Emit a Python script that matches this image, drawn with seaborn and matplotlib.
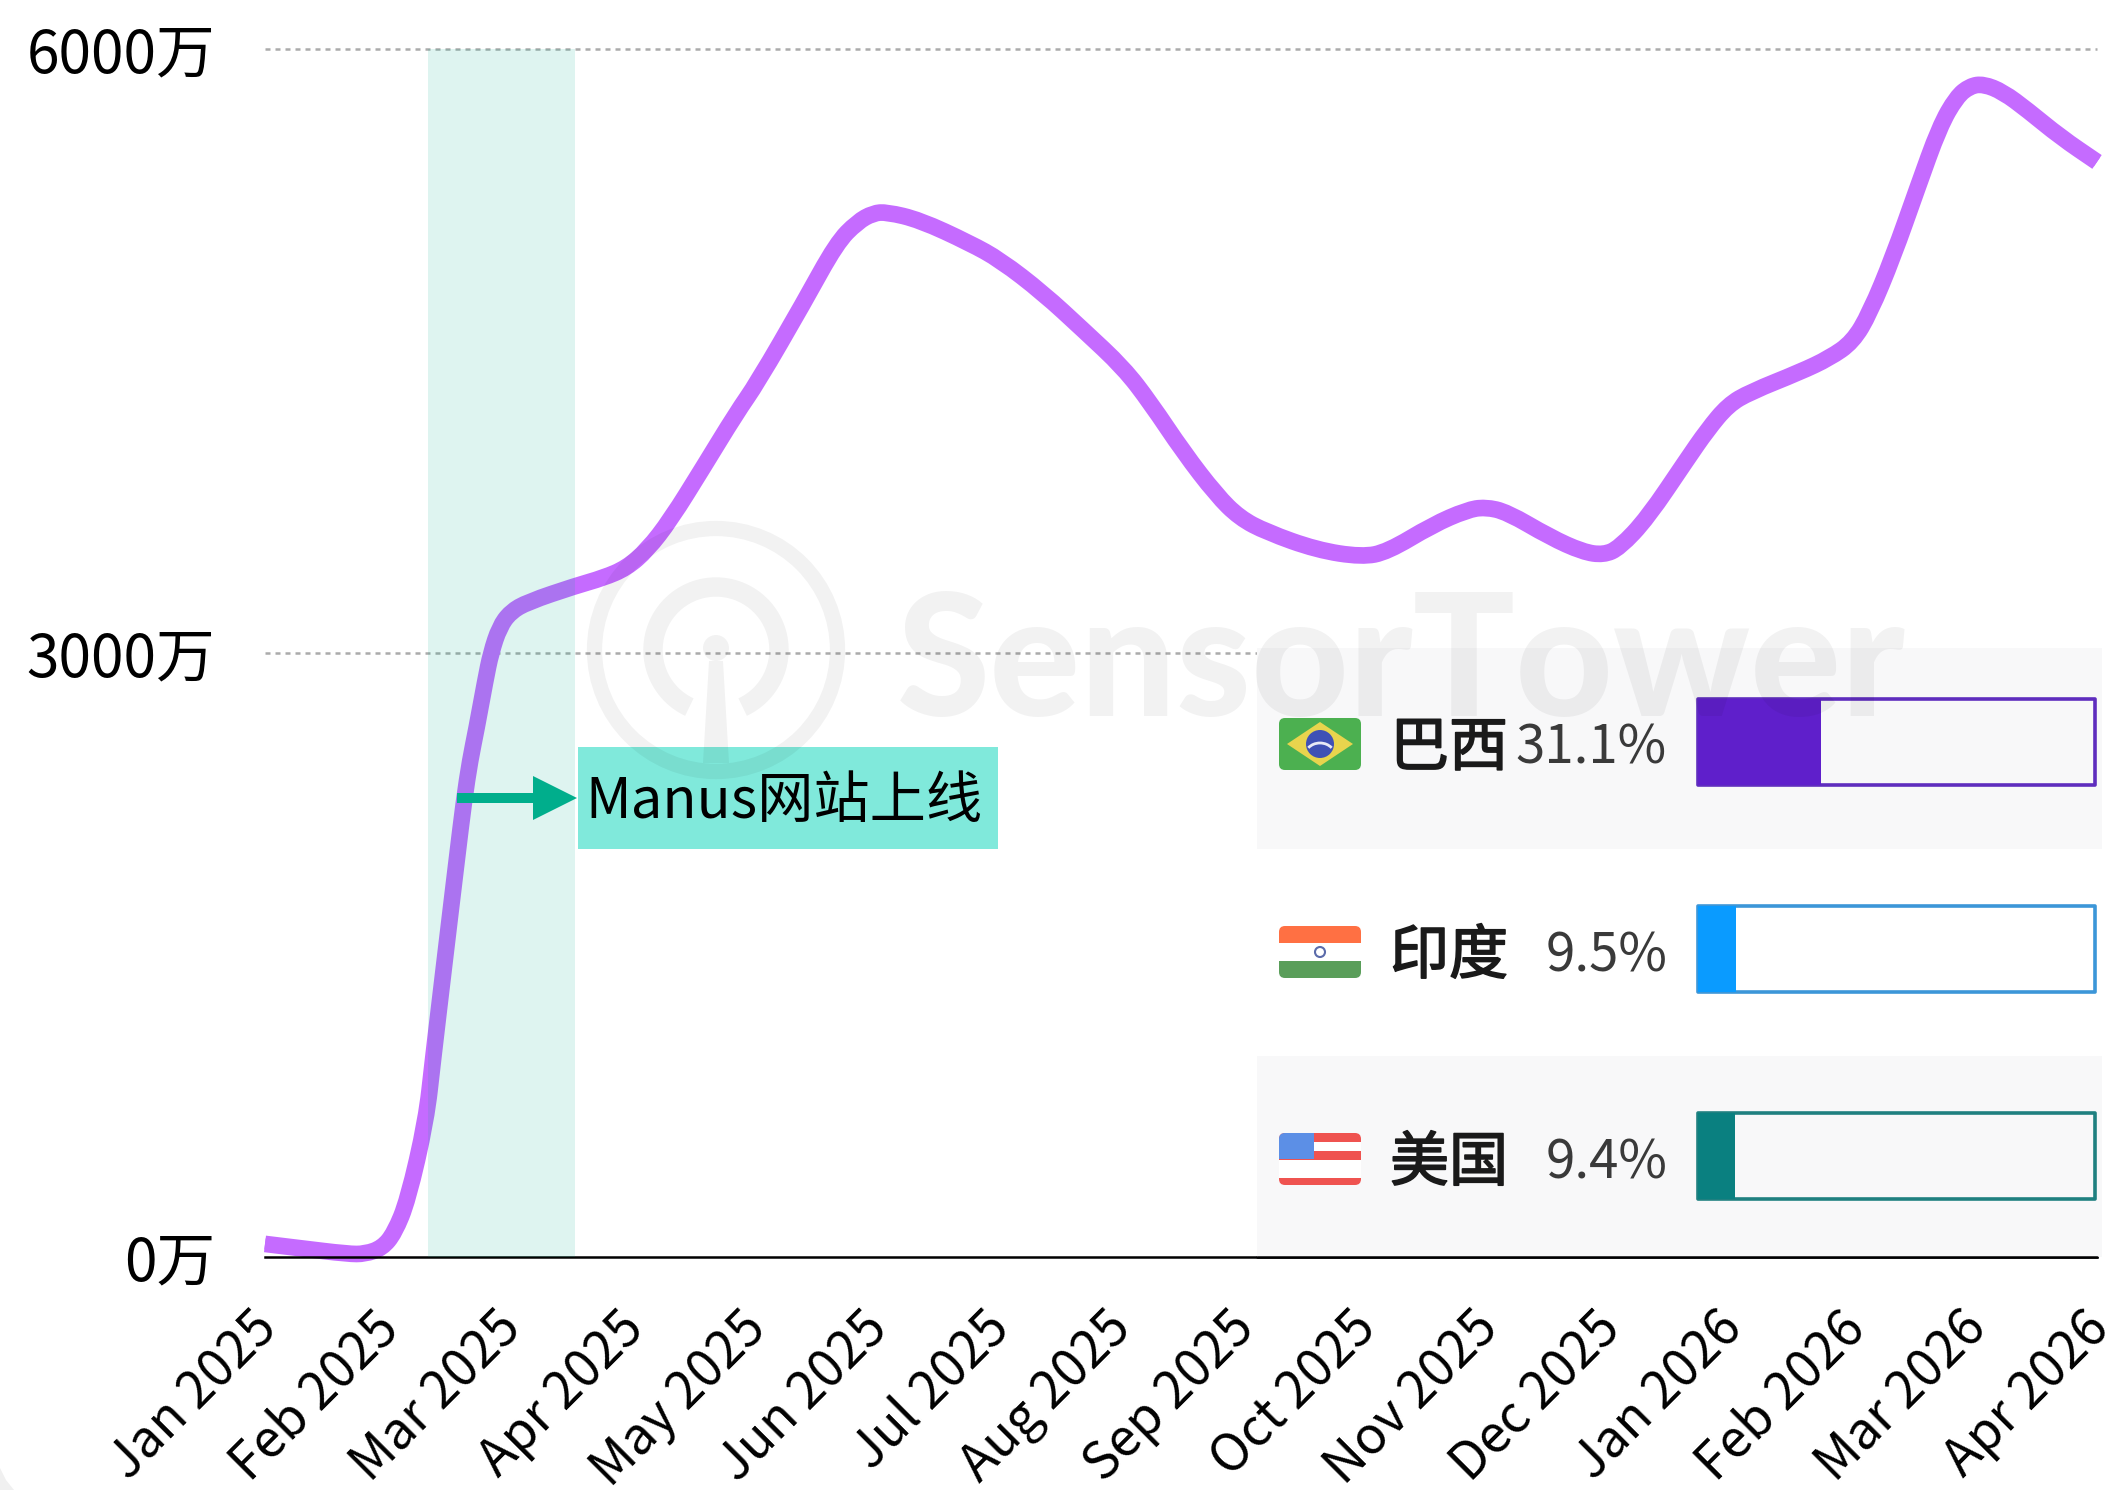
import numpy as np
import pandas as pd
import seaborn as sns
import matplotlib.pyplot as plt
import matplotlib.patheffects as pe
from matplotlib.patches import Rectangle, Polygon, Circle, Ellipse, Arc, FancyBboxPatch, PathPatch
from matplotlib.path import Path
from matplotlib.transforms import ScaledTranslation

# Monthly labels and the line (x in months since Jan 2025)
months = ["Jan 2025", "Feb 2025", "Mar 2025", "Apr 2025", "May 2025", "Jun 2025", "Jul 2025", "Aug 2025",
          "Sep 2025", "Oct 2025", "Nov 2025", "Dec 2025", "Jan 2026", "Feb 2026", "Mar 2026", "Apr 2026"]
curve_month = [0.00, 0.27, 0.68, 0.82, 0.96, 1.06, 1.17, 1.32, 1.375, 1.465, 1.57, 1.63, 1.68, 1.73, 1.805, 1.85, 1.92,
               2.01, 2.15, 2.54, 2.77, 2.96, 3.13, 3.32, 3.59, 3.86, 4.03, 4.41, 4.68, 4.85, 4.98, 5.09, 5.36,
               5.77, 6.02, 6.37, 6.70, 7.03, 7.25, 7.52, 7.79, 7.98, 8.20, 8.61, 8.98, 9.19, 9.56, 9.84, 9.99,
               10.17, 10.52, 10.79, 10.96, 11.09, 11.32, 11.64, 11.81, 11.98, 12.16, 12.57, 12.81, 13.00, 13.14,
               13.33, 13.53, 13.71, 13.85, 13.96, 14.07, 14.23, 14.43, 14.70, 15.00]
curve_users = [65, 45, 15, 15, 45, 119, 283, 680, 978, 1440, 1972, 2270, 2469, 2618, 2866, 3000, 3129,
               3204, 3253, 3333, 3373, 3422, 3512, 3661, 3924, 4192, 4341, 4739, 5036, 5141, 5185, 5190, 5151,
               5036, 4952, 4788, 4604, 4416, 4242, 3998, 3785, 3671, 3601, 3512, 3477, 3502, 3636, 3710, 3725,
               3700, 3576, 3502, 3487, 3522, 3671, 3959, 4108, 4232, 4296, 4396, 4465, 4545, 4689,
               4967, 5310, 5613, 5762, 5816, 5826, 5787, 5697, 5563, 5439]
y_ticks = [0, 3000, 6000]
y_labels = ["0万", "3000万", "6000万"]

# Country share panel
countries = ["巴西", "印度", "美国"]
shares = [31.1, 9.5, 9.4]
share_labels = ["31.1%", "9.5%", "9.4%"]
share_colors = ["#5F1FCB", "#0A9BFF", "#0A8080"]
track_colors = ["#5F2DBE", "#3C96D8", "#1F8080"]
track_full = [100, 100, 100]

W, H = 2111, 1490
LINE_COLOR = "#C56BFF"


def axes_px(x0, y0, x1, y1, **kw):
    # axes placed with picture pixels, y going down
    return fig.add_axes([x0 / W, 1 - y1 / H, (x1 - x0) / W, (y1 - y0) / H], **kw)


def rounded_path(xs, ys):
    # same read points, only the corners between them drawn as curves
    pts = np.column_stack((xs, ys))
    verts = [pts[0], (pts[0] + pts[1]) / 2]
    codes = [Path.MOVETO, Path.LINETO]
    for ctrl, mid in zip(pts[1:-1], (pts[1:-1] + pts[2:]) / 2):
        verts += [ctrl, mid]
        codes += [Path.CURVE3, Path.CURVE3]
    verts.append(pts[-1])
    codes.append(Path.LINETO)
    return Path(verts, codes)


sns.set_theme(style="white")
plt.rcParams['font.family'] = ['Noto Sans CJK SC', 'DejaVu Sans']

fig = plt.figure(figsize=(W / 100, H / 100), dpi=100, facecolor="white")

# Main line chart
ax = axes_px(265, 49, 2097, 1257, zorder=1)
ax.patch.set_alpha(0)
df = pd.DataFrame({"month": curve_month, "users": curve_users})
ax.axhline(6000, color="#ABABAB", lw=1.8, dashes=(2, 2), zorder=1, clip_on=False)
ax.axhline(3000, color="#ABABAB", lw=1.8, dashes=(2, 2), zorder=1, clip_on=False)
sns.lineplot(data=df, x="month", y="users", sort=False, estimator=None, color=LINE_COLOR, lw=8,
             ax=ax, zorder=2, clip_on=False, solid_capstyle="butt", solid_joinstyle="round")
ax.add_patch(PathPatch(rounded_path(curve_month, curve_users), fc="none", ec=LINE_COLOR, lw=12,
                       capstyle="butt", joinstyle="round", zorder=2, clip_on=False))
ax.axvspan(1.335, 2.539, color="#00AE8C", alpha=0.13, lw=0, zorder=3)
ax.set_xlim(0, 15)
ax.set_ylim(0, 6000)
ax.set_xlabel("")
ax.set_ylabel("")
ax.set_yticks(y_ticks, y_labels, fontsize=42.2, color="black")
ax.set_xticks(range(len(months)))
ax.set_xticklabels(months, fontsize=37, rotation=45, ha="right", rotation_mode="anchor", color="black")
ax.tick_params(axis="y", length=0, pad=36)
ax.tick_params(axis="x", length=0, pad=32)
for lab in ax.get_xticklabels():
    lab.set_transform(lab.get_transform() + ScaledTranslation(-0.15, 0, fig.dpi_scale_trans))
sns.despine(ax=ax, left=True, right=True, top=True)
ax.spines["bottom"].set_color("black")
ax.spines["bottom"].set_linewidth(1.8)
ax.spines["bottom"].set_zorder(2.5)

# Everything placed by pixel: panel rows, flags, callout
px = axes_px(0, 0, W, H, zorder=2)
px.set_xlim(0, W)
px.set_ylim(H, 0)
px.axis("off")

px.add_patch(Rectangle((1257, 648), 845, 201, fc="#F8F8F9", ec="none"))
px.add_patch(Rectangle((1257, 1056), 845, 201, fc="#F8F8F9", ec="none"))
px.plot([1257, 2097], [1257, 1257], color="black", lw=1.8)

row_y = [744, 952, 1159]
for name, label, y in zip(countries, share_labels, row_y):
    px.text(1449, y + 5, name, fontsize=42.5, color="#1A1A1A", ha="center", va="center",
            path_effects=[pe.withStroke(linewidth=1.2, foreground="#1A1A1A")])
    px.text(1667, y + 4, label, fontsize=38, color="#3A3A3A", ha="right", va="center")


def flag_base(y, color):
    box = FancyBboxPatch((1283, y - 22), 74, 44, boxstyle="round,pad=4,rounding_size=6", fc=color, ec="none")
    px.add_patch(box)
    return box


# Brazil
flag_base(row_y[0], "#4CB050")
px.add_patch(Polygon([(1287, row_y[0]), (1320, row_y[0] - 22), (1353, row_y[0]), (1320, row_y[0] + 22)],
                     fc="#E8D44D", ec="none"))
px.add_patch(Circle((1320, row_y[0]), 14, fc="#3F51B5", ec="none"))
px.add_patch(Arc((1320, row_y[0] + 12), 30, 26, theta1=215, theta2=325, color="#E8EAF6", lw=2))
# India
clip = flag_base(row_y[1], "#FFFFFF")
for top, h, c in [(-26, 17, "#FF7043"), (9, 17, "#5A9E5A")]:
    r = px.add_patch(Rectangle((1279, row_y[1] + top), 82, h, fc=c, ec="none"))
    r.set_clip_path(clip)
px.add_patch(Circle((1320, row_y[1]), 5, fc="none", ec="#5B6BAA", lw=1.5))
# USA
clip = flag_base(row_y[2], "#FFFFFF")
for top, h in [(-26, 9), (-8, 9), (10, 9), (19, 7)]:
    c = "#EF5350" if top != 10 else "#FFFFFF"
    r = px.add_patch(Rectangle((1279, row_y[2] + top), 82, h, fc=c, ec="none"))
    r.set_clip_path(clip)
r = px.add_patch(Rectangle((1279, row_y[2] - 26), 35, 26, fc="#5C8FE6", ec="none"))
r.set_clip_path(clip)

# Callout
px.add_patch(Rectangle((578, 747), 420, 102, fc="#80E9DB", ec="none"))
px.text(585, 802, "Manus网站上线", fontsize=40.5, color="black", ha="left", va="center")
px.add_patch(Polygon([(457, 793), (533, 793), (533, 776), (577, 798), (533, 820), (533, 803), (457, 803)],
                     fc="#00AE8C", ec="none"))

# Share bars
bar_ax = axes_px(1698, 638.5, 2095, 1259.5, zorder=3)
bar_ax.patch.set_alpha(0)
sns.barplot(x=track_full, y=countries, hue=countries, palette=track_colors, fill=False, linewidth=2.6, width=0.415,
            legend=False, ax=bar_ax, saturation=1, clip_on=False)
for bar in bar_ax.patches:
    bar.set_joinstyle("round")
sns.barplot(x=shares, y=countries, hue=countries, palette=share_colors, width=0.415, legend=False, ax=bar_ax,
            linewidth=0, saturation=1)
bar_ax.set_xlim(0, 100)
bar_ax.set_ylim(2.5, -0.5)
bar_ax.axis("off")

# Watermark on top of everything
wm = axes_px(0, 0, W, H, zorder=4)
wm.set_xlim(0, W)
wm.set_ylim(H, 0)
wm.axis("off")
wm_c = dict(color="black", alpha=0.05)
wm.add_patch(Ellipse((716, 650), 243, 243, fc="none", ec="black", alpha=0.05, lw=11))
wm.add_patch(Arc((716, 650), 126, 126, theta1=115, theta2=425, lw=14, **wm_c))
wm.add_patch(Circle((716, 648), 13, fc="black", ec="none", alpha=0.05))
wm.add_patch(Polygon([(709, 661), (723, 661), (729, 763), (703, 763)], fc="black", ec="none", alpha=0.05))
wm.text(897, 716, "SensorTower", fontsize=122, family="Lato", weight=900, color="black", alpha=0.05,
        ha="left", va="baseline")

# Light corner left over in the screenshot
wm.add_patch(Polygon([(0, 1468), (6, 1480), (14, 1490), (0, 1490)], fc="#F0F0F0", ec="none"))

fig.savefig("out.png", dpi=100)
